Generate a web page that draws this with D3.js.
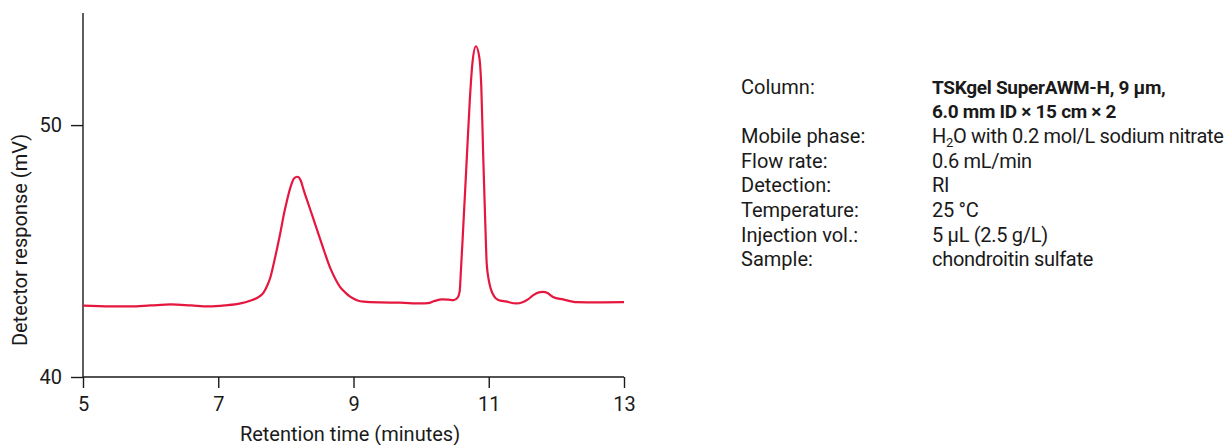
<!DOCTYPE html>
<html>
<head>
<meta charset="utf-8">
<script src="https://cdn.jsdelivr.net/npm/d3@7"></script>
<style>
  html, body { margin: 0; padding: 0; background: #fff; }
  svg { display: block; }
  text { font-family: "Roboto", "Liberation Sans", sans-serif; fill: #1a1a1a; }
</style>
</head>
<body>
<svg id="chart" width="1225" height="445"></svg>
<script>
// Retention time (minutes)
const times = [5.00, 5.40, 5.70, 6.00, 6.30, 6.60, 6.85, 7.10, 7.33, 7.47, 7.60, 7.67, 7.72, 7.77, 7.82, 7.87, 7.92, 7.97, 8.02, 8.07, 8.12, 8.17, 8.22, 8.26, 8.36, 8.46, 8.56, 8.66, 8.73, 8.80, 8.88, 8.95, 9.05, 9.15, 9.40, 9.69, 10.00, 10.10, 10.20, 10.31, 10.40, 10.48, 10.54, 10.57, 10.59, 10.62, 10.67, 10.72, 10.76, 10.81, 10.86, 10.89, 10.92, 10.95, 10.97, 11.00, 11.03, 11.08, 11.14, 11.25, 11.41, 11.50, 11.58, 11.66, 11.73, 11.80, 11.87, 11.95, 12.10, 12.30, 12.60, 13.00];
// Detector response (mV)
const response = [42.83, 42.80, 42.80, 42.84, 42.88, 42.84, 42.80, 42.84, 42.92, 43.03, 43.18, 43.35, 43.60, 43.95, 44.50, 45.10, 45.75, 46.45, 47.05, 47.55, 47.88, 47.95, 47.80, 47.45, 46.65, 45.85, 45.05, 44.30, 43.90, 43.58, 43.35, 43.19, 43.05, 42.99, 42.96, 42.95, 42.92, 42.93, 43.02, 43.08, 43.07, 43.05, 43.15, 43.40, 44.30, 45.80, 48.40, 51.00, 52.50, 53.13, 52.70, 51.50, 48.60, 46.00, 44.50, 43.85, 43.50, 43.20, 43.06, 43.00, 42.92, 42.97, 43.08, 43.25, 43.35, 43.38, 43.33, 43.18, 43.08, 42.97, 42.96, 42.97];

const xTicks = [5, 7, 9, 11, 13];
const yTicks = [40, 50];
const xTitle = "Retention time (minutes)";
const yTitle = "Detector response (mV)";

const condLabels = ["Column:", "", "Mobile phase:", "Flow rate:", "Detection:", "Temperature:", "Injection vol.:", "Sample:"];
const condValues = ["TSKgel SuperAWM-H, 9 µm,", "6.0 mm ID × 15 cm × 2", "H|2|O with 0.2 mol/L sodium nitrate", "0.6 mL/min", "RI", "25 °C", "5 µL (2.5 g/L)", "chondroitin sulfate"];
const condBold = [true, true, false, false, false, false, false, false];

const svg = d3.select("#chart");
const fontSize = 20;

const x = d3.scaleLinear().domain([5, 13]).range([83, 624]);
const y = d3.scaleLinear().domain([40, 54.45]).range([377, 13]);

// axes
const gx = svg.append("g").attr("transform", `translate(0,${y(40)})`)
  .call(d3.axisBottom(x).tickValues(xTicks).tickSize(11).tickPadding(9).tickFormat(d3.format("d")));
const gy = svg.append("g").attr("transform", `translate(${x(5)},0)`)
  .call(d3.axisLeft(y).tickValues(yTicks).tickSize(12).tickPadding(9).tickFormat(d3.format("d")));
[gx, gy].forEach(g => {
  g.attr("font-family", null).attr("font-size", null);
  g.select(".domain").attr("stroke", "#1a1a1a").attr("stroke-width", 1.4);
  g.selectAll(".tick line").attr("stroke", "#1a1a1a").attr("stroke-width", 1.4);
  g.selectAll(".tick text").attr("font-size", fontSize).attr("fill", "#1a1a1a");
});
gx.select(".domain").attr("d", `M${x(5)},0H${x(13)}`);
gy.select(".domain").attr("d", `M0,${y(54.45)}V${y(40)}`);

// titles
svg.append("text").attr("x", 350).attr("y", 441).attr("text-anchor", "middle")
  .attr("font-size", fontSize).text(xTitle);
svg.append("text").attr("transform", "translate(27,240) rotate(-90)").attr("text-anchor", "middle")
  .attr("font-size", fontSize).text(yTitle);

// trace
const pts = times.map((t, i) => [t, response[i]]);
svg.append("path").datum(pts)
  .attr("fill", "none").attr("stroke", "#e5173f").attr("stroke-width", 2.2)
  .attr("stroke-linejoin", "round")
  .attr("d", d3.line().x(d => x(d[0])).y(d => y(d[1])).curve(d3.curveMonotoneX));

// conditions panel
const rowY = i => 93.5 + i * 24.7;
condLabels.forEach((lab, i) => {
  if (lab) svg.append("text").attr("x", 741).attr("y", rowY(i)).attr("font-size", fontSize).text(lab);
});
condValues.forEach((val, i) => {
  const t = svg.append("text").attr("x", 932).attr("y", rowY(i))
    .attr("font-size", condBold[i] ? 19 : fontSize)
    .style("letter-spacing", "-0.3px")
    .attr("font-weight", condBold[i] ? "bold" : null);
  if (val.includes("|")) {
    const parts = val.split("|");
    t.append("tspan").text(parts[0]);
    t.append("tspan").attr("font-size", 13).attr("dy", 4).text(parts[1]);
    t.append("tspan").attr("dy", -4).text(parts[2]);
  } else {
    t.text(val);
  }
});
</script>
</body>
</html>
